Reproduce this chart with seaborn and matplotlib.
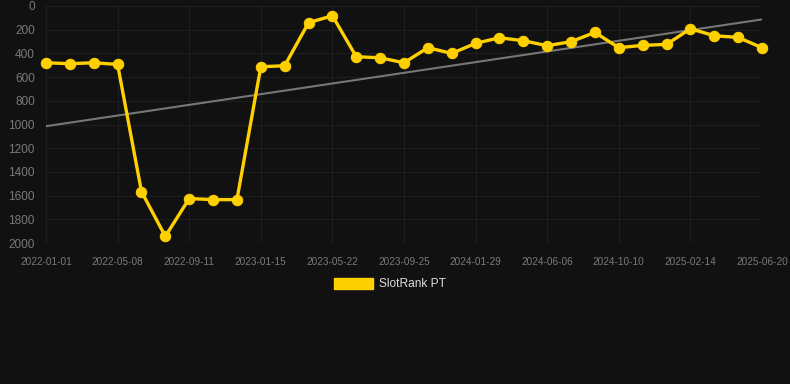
import numpy as np
import pandas as pd
import matplotlib
matplotlib.use("Agg")
import matplotlib.pyplot as plt
import seaborn as sns
from matplotlib.patches import Patch

tick_labels = ["2022-01-01", "2022-05-08", "2022-09-11", "2023-01-15", "2023-05-22",
               "2023-09-25", "2024-01-29", "2024-06-06", "2024-10-10", "2025-02-14",
               "2025-06-20"]
rank_values = [479, 487, 479, 493, 1566, 1944, 1625, 1634, 1634, 513, 504, 141, 82,
               428, 437, 479, 352, 400, 315, 268, 293, 335, 301, 223, 352, 332, 324,
               192, 251, 265, 352]
series_name = "SlotRank PT"

idx = np.arange(len(rank_values))
df = pd.DataFrame({"idx": idx, "rank": rank_values})

# linear trend
coef = np.polyfit(idx, rank_values, 1)
trend = np.polyval(coef, idx)

sns.set_theme(style="dark")
plt.rcParams['font.family'] = ['Liberation Sans', 'DejaVu Sans']

bg = "#111111"
fig = plt.figure(figsize=(7.9, 3.84), dpi=100, facecolor=bg)
ax = fig.add_axes([46/790, 1 - 243/384, (762-46)/790, (243-6)/384])
ax.set_facecolor(bg)

gold = "#FFD000"
ax.plot(idx, trend, color="#777777", linewidth=1.5, zorder=2)
sns.lineplot(data=df, x="idx", y="rank", ax=ax, color=gold, linewidth=2.4,
             marker="o", markersize=7.5, markeredgecolor=gold, zorder=3, clip_on=False)

ax.set_xlim(0, len(rank_values) - 1)
ax.set_ylim(2000, 0)
ax.set_xticks(idx[::3])
ax.set_xticklabels(tick_labels)
ax.set_yticks(np.arange(0, 2001, 200))
ax.set_xlabel("")
ax.set_ylabel("")

for s in ax.spines.values():
    s.set_visible(False)
ax.grid(True, color="#1e1e1e", linewidth=0.8)
ax.tick_params(axis="x", colors="#1e1e1e", labelcolor="#7a7a7a", labelsize=7.2, length=5, pad=5)
ax.tick_params(axis="y", colors="#1e1e1e", labelcolor="#7a7a7a", labelsize=8.5, length=4, pad=4)
ax.axhline(2000, color="#2a2a2a", linewidth=0.8, zorder=1)

handles = [Patch(facecolor=gold, edgecolor=gold, label=series_name)]
leg = fig.legend(handles=handles, loc="center", bbox_to_anchor=(390/790, 1 - 284/384),
                 frameon=False, fontsize=8.6, handlelength=3.3, handleheight=1.1,
                 handletextpad=0.5)
for t in leg.get_texts():
    t.set_color("#dddddd")

fig.savefig("out.png", dpi=100, facecolor=bg)
